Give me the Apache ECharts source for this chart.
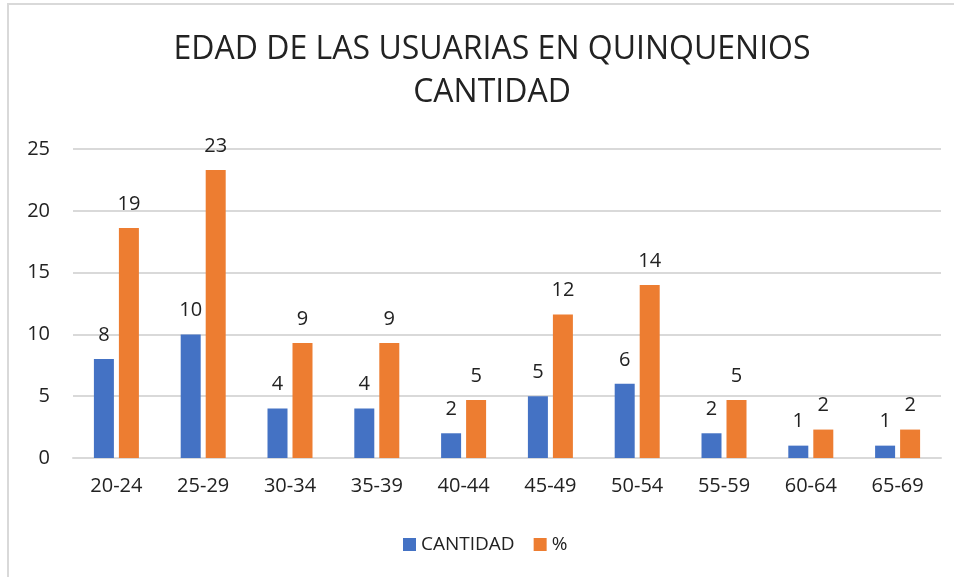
<!DOCTYPE html>
<html>
<head>
<meta charset="utf-8">
<script src="https://cdn.jsdelivr.net/npm/echarts@6/dist/echarts.min.js"></script>
<style>
  html, body { margin: 0; padding: 0; background: #fff; }
  #frame { position: absolute; left: 7px; top: 3px; width: 960px; height: 600px;
           border-left: 2px solid #d9d9d9; border-top: 2px solid #d9d9d9; }
  #chart { position: absolute; left: 0; top: 0; width: 954px; height: 577px; }
</style>
</head>
<body>
<div id="frame"></div>
<div id="chart"></div>
<script>
// quinquenios de edad
const grupos = ['20-24', '25-29', '30-34', '35-39', '40-44', '45-49', '50-54', '55-59', '60-64', '65-69'];
const cantidad = [8, 10, 4, 4, 2, 5, 6, 2, 1, 1];
const porcentaje = [18.6, 23.3, 9.3, 9.3, 4.7, 11.6, 14.0, 4.7, 2.3, 2.3];
const ejeY = [0, 5, 10, 15, 20, 25];

const font = 'Open Sans';
const txt = '#222222';

const chart = echarts.init(document.getElementById('chart'));

const etiqueta = {
  show: true,
  position: 'top',
  distance: 14,
  color: txt,
  fontFamily: font,
  fontSize: 20,
  formatter: p => Math.round(p.value)
};

chart.setOption({
  animation: false,
  backgroundColor: 'transparent',
  title: {
    text: 'EDAD DE LAS USUARIAS EN QUINQUENIOS\nCANTIDAD',
    left: 487,
    top: 23,
    textAlign: 'center',
    textStyle: {
      fontFamily: font,
      fontSize: 32,
      fontWeight: 'normal',
      color: txt,
      lineHeight: 43
    }
  },
  legend: {
    data: ['CANTIDAD', '%'],
    left: 403,
    top: 535,
    padding: 0,
    icon: 'rect',
    itemWidth: 13,
    itemHeight: 13,
    itemGap: 19,
    textStyle: { fontFamily: font, fontSize: 19, color: txt }
  },
  grid: { left: 73, right: 13, top: 149, bottom: 119 },
  xAxis: {
    type: 'category',
    data: grupos,
    axisTick: { show: false },
    axisLine: { lineStyle: { color: '#d9d9d9', width: 2 } },
    axisLabel: { fontFamily: font, fontSize: 20, color: txt, margin: 18 }
  },
  yAxis: {
    type: 'value',
    min: ejeY[0],
    max: ejeY[ejeY.length - 1],
    interval: 5,
    axisLine: { show: false },
    axisTick: { show: false },
    axisLabel: { fontFamily: font, fontSize: 20, color: txt, margin: 23 },
    splitLine: { lineStyle: { color: '#d9d9d9', width: 2 } }
  },
  series: [
    {
      name: 'CANTIDAD',
      type: 'bar',
      data: cantidad,
      barWidth: 20,
      barGap: '25%',
      itemStyle: { color: '#4472C4' },
      label: etiqueta
    },
    {
      name: '%',
      type: 'bar',
      data: porcentaje,
      barWidth: 20,
      itemStyle: { color: '#ED7D31' },
      label: etiqueta
    }
  ]
});
</script>
</body>
</html>
